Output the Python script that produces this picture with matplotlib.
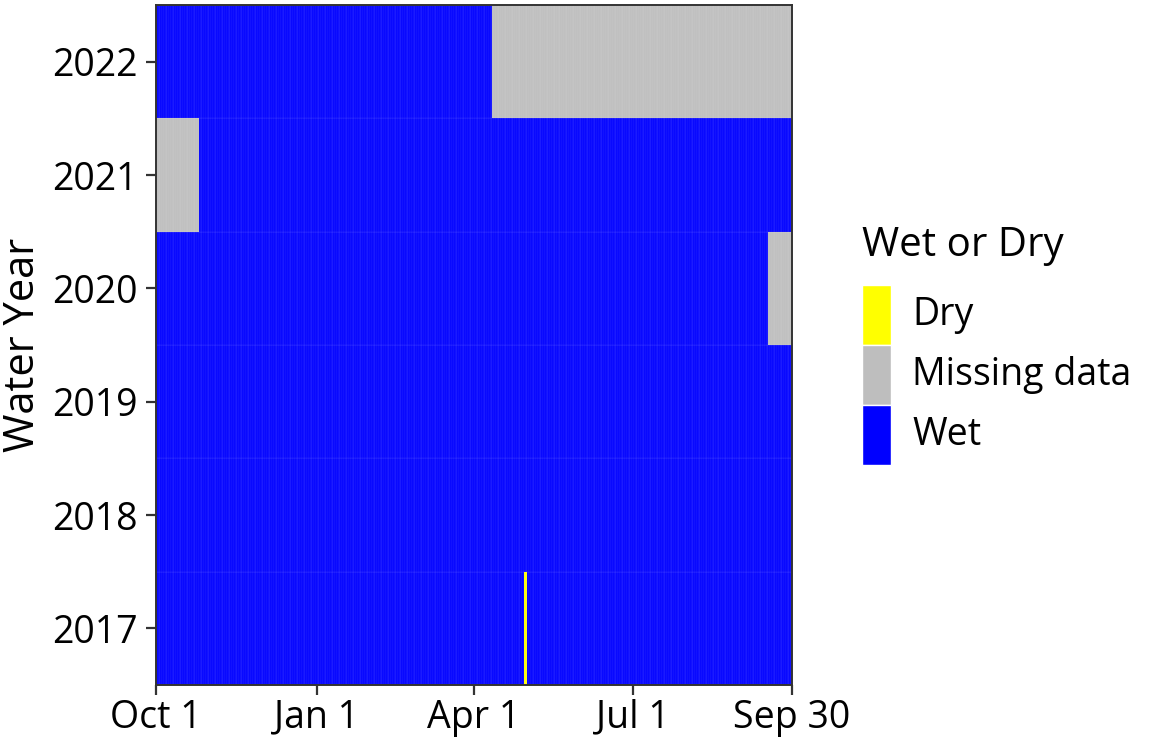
import numpy as np
import matplotlib
matplotlib.use("Agg")
import matplotlib.pyplot as plt
from matplotlib.colors import ListedColormap, BoundaryNorm
from matplotlib.patches import Rectangle

plt.rcParams['font.family'] = ['Open Sans', 'DejaVu Sans']

# ---- data ----
water_years = [2017, 2018, 2019, 2020, 2021, 2022]
n_days = 365
categories = ["Dry", "Missing data", "Wet"]
cat_colors = ["#FFFF00", "#BEBEBE", "#0000FF"]

missing_year = [2022, 2021, 2020]
missing_start = [194, 1, 352]
missing_end = [365, 25, 365]

dry_year = [2017]
dry_start = [212]
dry_end = [213]

tick_days = [1, 93, 183, 274, 365]
tick_labels = ["Oct 1", "Jan 1", "Apr 1", "Jul 1", "Sep 30"]

# ---- build grid (0=Dry, 1=Missing, 2=Wet) ----
grid = np.full((len(water_years), n_days), 2)
for y, s, e in zip(missing_year, missing_start, missing_end):
    grid[water_years.index(y), s - 1:e] = 1
for y, s, e in zip(dry_year, dry_start, dry_end):
    grid[water_years.index(y), s - 1:e] = 0

days = np.arange(1, n_days + 1)
x_edges = np.append(days - 0.5, days[-1] + 0.5)
y_idx = np.arange(len(water_years))
y_edges = np.append(y_idx - 0.5, y_idx[-1] + 0.5)

W, H = 1152, 750
fig = plt.figure(figsize=(W / 100, H / 100), dpi=100)
ax = fig.add_axes([156 / W, 1 - 685 / H, (792 - 156) / W, (685 - 5) / H])

cmap = ListedColormap(cat_colors)
norm = BoundaryNorm([-0.5, 0.5, 1.5, 2.5], cmap.N)
ax.pcolormesh(x_edges, y_edges, grid, cmap=cmap, norm=norm,
              edgecolors=(1, 1, 1, 0.18), linewidth=0.3, antialiased=True)

ax.set_xlim(1, 365)
ax.set_ylim(-0.5, len(water_years) - 0.5)
ax.set_xticks(tick_days)
ax.set_xticklabels(tick_labels)
ax.set_yticks(y_idx)
ax.set_yticklabels([str(y) for y in water_years])

fs = 27
ax.tick_params(axis='both', labelsize=fs, length=7, width=1.6, color='#333333',
               labelcolor='black')
ax.tick_params(axis='x', pad=3)
ax.tick_params(axis='y', pad=6)
for sp in ax.spines.values():
    sp.set_color('#333333')
    sp.set_linewidth(1.4)
ax.set_ylabel("Water Year", fontsize=30, labelpad=6)

# ---- legend ----
fig.text(862 / W, 1 - 246 / H, "Wet or Dry", fontsize=29, ha='left', va='center')
key_top = 285
key_h = 60
for i, (lab, col) in enumerate(zip(categories, cat_colors)):
    top = key_top + i * key_h
    fig.add_artist(Rectangle((862 / W, 1 - (top + key_h) / H), 29 / W, key_h / H,
                             transform=fig.transFigure, facecolor=col,
                             edgecolor='white', linewidth=1))
    fig.text(912 / W, 1 - (top + key_h / 2) / H, lab, fontsize=fs,
             ha='left', va='center')

fig.savefig("out.png", dpi=100)
